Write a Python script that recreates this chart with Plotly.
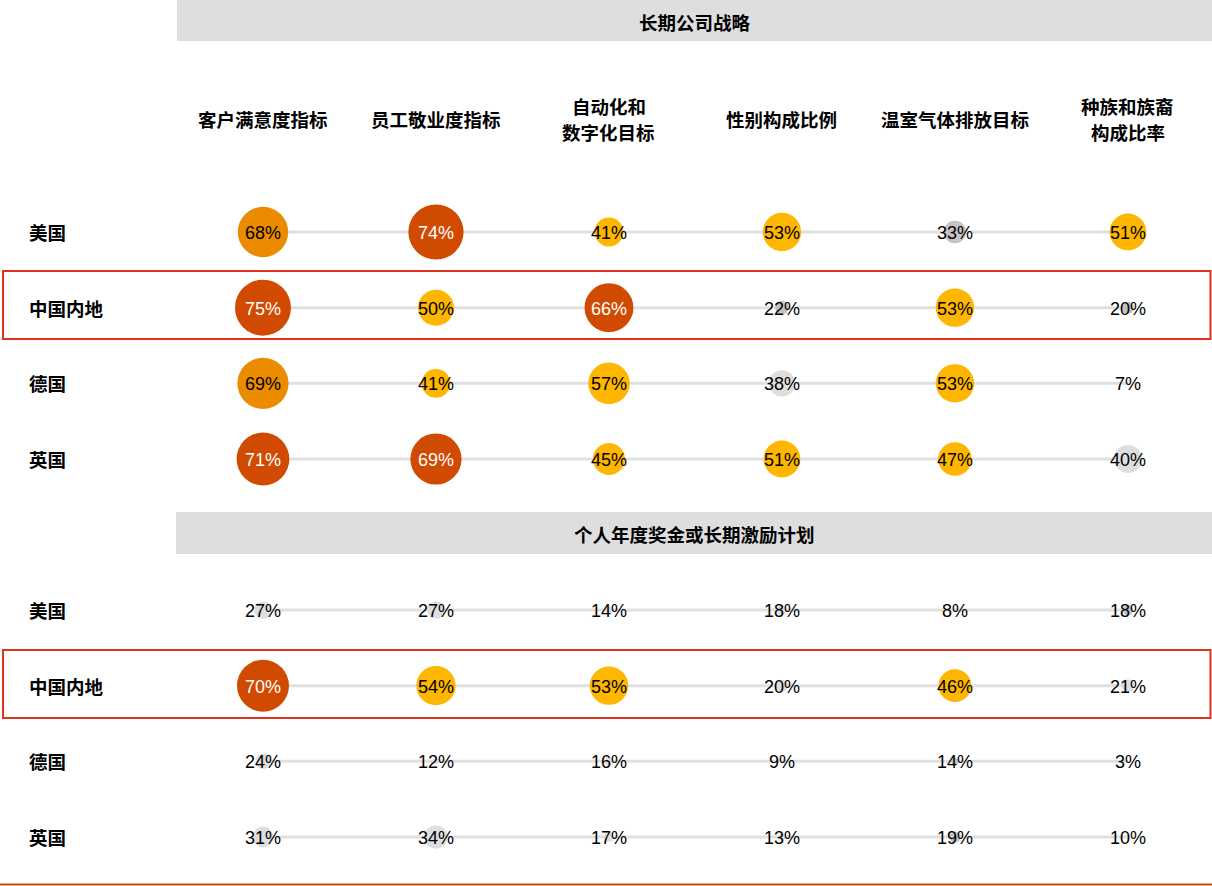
import plotly.graph_objects as go

# ---------------- data ----------------
column_keys = ["客户满意度指标", "员工敬业度指标", "自动化和数字化目标",
               "性别构成比例", "温室气体排放目标", "种族和族裔构成比率"]
column_label_lines = [["客户满意度指标"], ["员工敬业度指标"], ["自动化和", "数字化目标"],
                      ["性别构成比例"], ["温室气体排放目标"], ["种族和族裔", "构成比率"]]
rows = ["美国", "中国内地", "德国", "英国"]
section_titles = ["长期公司战略", "个人年度奖金或长期激励计划"]

strategy_values = [
    [68, 74, 41, 53, 33, 51],
    [75, 50, 66, 22, 53, 20],
    [69, 41, 57, 38, 53, 7],
    [71, 69, 45, 51, 47, 40],
]
incentive_values = [
    [27, 27, 14, 18, 8, 18],
    [70, 54, 53, 20, 46, 21],
    [24, 12, 16, 9, 14, 3],
    [31, 34, 17, 13, 19, 10],
]
# colour tier per cell: D dark orange, O orange, Y yellow, M mid grey, G light grey
strategy_tiers = [
    ["O", "D", "Y", "Y", "M", "Y"],
    ["D", "Y", "D", "M", "Y", "M"],
    ["O", "Y", "Y", "G", "Y", "G"],
    ["D", "D", "Y", "Y", "Y", "G"],
]
incentive_tiers = [
    ["G", "G", "G", "G", "G", "M"],
    ["D", "Y", "Y", "G", "Y", "G"],
    ["G", "G", "G", "G", "M", "G"],
    ["G", "G", "G", "G", "M", "G"],
]

# ---------------- styles ----------------
TIER_COLOR = {"D": "#D04A02", "O": "#EB8C00", "Y": "#FFB600",
              "M": "#C4C4C4", "G": "#DEDEDE"}
TIER_TEXT = {"D": "#FFFFFF", "O": "#000000", "Y": "#000000",
             "M": "#000000", "G": "#000000"}
CJK = "Noto Sans CJK SC, sans-serif"
LATIN = "Liberation Sans, Arial, sans-serif"
W, H = 1212, 886
LABEL_SIZE = 18.5


def py(px):
    return 1 - px / H


fig = go.Figure()
annotations = []

panels = [("y", strategy_values, strategy_tiers), ("y2", incentive_values, incentive_tiers)]
for yref, values, tiers in panels:
    for r in rows:
        fig.add_trace(go.Scatter(
            x=column_keys, y=[r] * len(column_keys), mode="lines",
            line=dict(color="#E0E0E0", width=3), hoverinfo="skip",
            showlegend=False, xaxis="x", yaxis=yref))
    xs, ys, sizes, colors = [], [], [], []
    for i, r in enumerate(rows):
        for j, c in enumerate(column_keys):
            v = values[i][j]
            t = tiers[i][j]
            xs.append(c)
            ys.append(r)
            sizes.append(max(0.8 * v - 4, 0))
            colors.append(TIER_COLOR[t])
            annotations.append(dict(
                text=f"{v}%", xref="x", yref=yref, x=c, y=r, showarrow=False,
                xanchor="center", yanchor="middle", yshift=-1,
                font=dict(family=LATIN, size=18, color=TIER_TEXT[t])))
    fig.add_trace(go.Scatter(
        x=xs, y=ys, mode="markers",
        marker=dict(size=sizes, color=colors, line=dict(width=0), opacity=1),
        showlegend=False, xaxis="x", yaxis=yref, cliponaxis=False))

ax_common = dict(showgrid=False, zeroline=False, showticklabels=False,
                 showline=False, ticks="", fixedrange=True)
spacing = 75.67
fig.update_layout(
    width=W, height=H,
    margin=dict(l=0, r=0, t=0, b=0),
    paper_bgcolor="white", plot_bgcolor="white",
    xaxis=dict(domain=[177 / W, 1.0], range=[-0.497, 5.486],
               type="category", categoryorder="array", categoryarray=column_keys,
               **ax_common),
    yaxis=dict(domain=[py(459 + spacing / 2), py(232 - spacing / 2)],
               range=[3.5, -0.5], type="category", categoryorder="array",
               categoryarray=rows, anchor="x", **ax_common),
    yaxis2=dict(domain=[py(837 + spacing / 2), py(610 - spacing / 2)],
                range=[3.5, -0.5], type="category", categoryorder="array",
                categoryarray=rows, anchor="x", **ax_common),
)

shapes = [
    # section header bars
    dict(type="rect", xref="paper", yref="paper", x0=177 / W, x1=1, y0=py(41), y1=py(0),
         fillcolor="#DEDEDE", line=dict(width=0), layer="below"),
    dict(type="rect", xref="paper", yref="paper", x0=176 / W, x1=1, y0=py(554), y1=py(512),
         fillcolor="#DEDEDE", line=dict(width=0), layer="below"),
    # highlight boxes
    dict(type="rect", xref="paper", yref="paper", x0=3 / W, x1=1210.5 / W, y0=py(339), y1=py(271),
         fillcolor="rgba(0,0,0,0)", line=dict(color="#E0301E", width=2)),
    dict(type="rect", xref="paper", yref="paper", x0=3 / W, x1=1210.5 / W, y0=py(718), y1=py(650),
         fillcolor="rgba(0,0,0,0)", line=dict(color="#E0301E", width=2)),
    # bottom rule
    dict(type="line", xref="paper", yref="paper", x0=0, x1=1, y0=py(884.5), y1=py(884.5),
         line=dict(color="#D04A02", width=2)),
]
fig.update_layout(shapes=shapes)

title_y = [22, 534]
for t, yy in zip(section_titles, title_y):
    annotations.append(dict(text=f"<b>{t}</b>", xref="paper", yref="paper",
                            x=(177 + W) / 2 / W, y=py(yy), showarrow=False,
                            xanchor="center", yanchor="middle",
                            font=dict(family=CJK, size=LABEL_SIZE, color="#000000")))
for c, lines in zip(column_keys, column_label_lines):
    if len(lines) == 1:
        ys_px = [119]
    else:
        ys_px = [106, 132]
    for line, ypx in zip(lines, ys_px):
        annotations.append(dict(text=f"<b>{line}</b>", xref="x", yref="paper",
                                x=c, y=py(ypx), showarrow=False,
                                xanchor="center", yanchor="middle", align="center",
                                font=dict(family=CJK, size=LABEL_SIZE, color="#000000")))
for yref in ["y", "y2"]:
    for r in rows:
        annotations.append(dict(text=f"<b>{r}</b>", xref="paper", yref=yref,
                                x=27 / W, y=r, showarrow=False,
                                xanchor="left", yanchor="middle",
                                font=dict(family=CJK, size=LABEL_SIZE, color="#000000")))
fig.update_layout(annotations=annotations)

fig.write_html(
    "out.html",
    config={"displayModeBar": False, "staticPlot": True},
    post_script="document.body.style.margin='0';document.body.style.padding='0';"
                "document.body.style.overflow='hidden';",
)
